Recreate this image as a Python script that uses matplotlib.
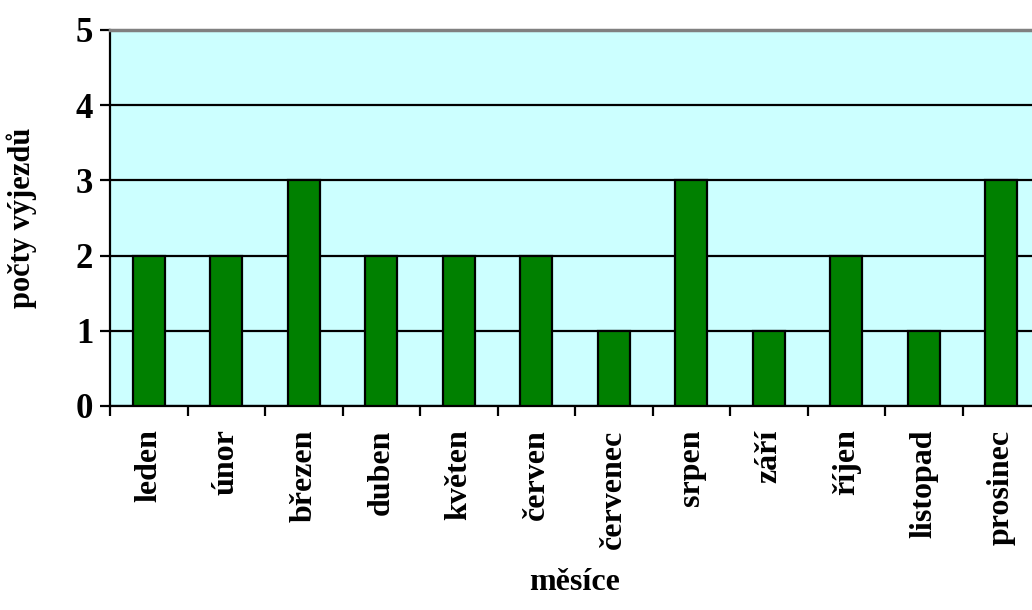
import matplotlib
matplotlib.use("Agg")
import matplotlib.pyplot as plt
import numpy as np

mesice = ["leden", "únor", "březen", "duben", "květen", "červen",
          "červenec", "srpen", "září", "říjen", "listopad", "prosinec"]
vyjezdy = [2, 2, 3, 2, 2, 2, 1, 3, 1, 2, 1, 3]

plt.rcParams['font.family'] = ['Liberation Serif', 'DejaVu Serif']
plt.rcParams['font.weight'] = 'bold'

fig = plt.figure(figsize=(10.32, 6.10), dpi=100)
# plot area runs a bit past the right edge like in the original
ax = fig.add_axes([110 / 1032, 1 - 406 / 610, 930 / 1032, 376 / 610])
ax.set_facecolor('#CCFFFF')

x = np.arange(len(mesice))
ax.bar(x, vyjezdy, width=0.41, color='#008000', edgecolor='black',
       linewidth=1.6, zorder=3)

ax.set_xlim(-0.5, len(mesice) - 0.5)
ax.set_ylim(0, 5)
ax.set_yticks(range(6))
ax.yaxis.grid(True, color='black', linewidth=1.6, zorder=1)
ax.set_axisbelow(True)

ax.set_xticks(x)
ax.set_xticklabels(mesice, rotation=90, fontsize=23, fontweight='bold')
ax.set_xticks(np.arange(len(mesice) + 1) - 0.5, minor=True)
ax.tick_params(axis='x', which='major', length=0, pad=17)
ax.tick_params(axis='x', which='minor', length=7, width=1.6, direction='out')
ax.tick_params(axis='y', length=7, width=1.6, direction='out', pad=5,
               labelsize=25)
for t in ax.get_yticklabels():
    t.set_fontweight('bold')

ax.spines['top'].set_color('#808080')
ax.spines['top'].set_linewidth(2.5)
ax.spines['right'].set_visible(False)
ax.spines['left'].set_linewidth(1.6)
ax.spines['bottom'].set_linewidth(1.6)

ax.set_xlabel('měsíce', fontsize=23, fontweight='bold', labelpad=14)
ax.set_ylabel('počty výjezdů', fontsize=22, fontweight='bold', labelpad=28)

fig.savefig('out.png', dpi=100)
